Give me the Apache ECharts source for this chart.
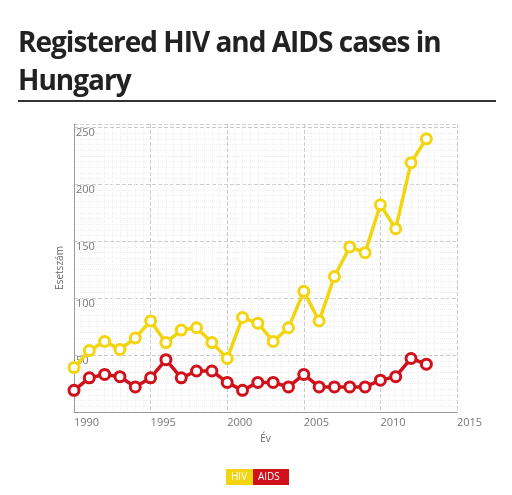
<!DOCTYPE html>
<html>
<head>
<meta charset="utf-8">
<script src="https://cdn.jsdelivr.net/npm/echarts@6/dist/echarts.min.js"></script>
<style>
body { margin: 0; background: #fff; }
#title { position: absolute; left: 18px; top: 22px; width: 478px; font-family: "Open Sans", "Noto Sans", sans-serif; font-weight: bold; font-size: 28px; line-height: 38px; color: #222; letter-spacing: -1px; border-bottom: 2px solid #333; padding-bottom: 2px; }
#chart { position: absolute; left: 0; top: 0; width: 512px; height: 495px; }
</style>
</head>
<body>
<div id="chart"></div>
<div id="title">Registered HIV and AIDS cases in Hungary</div>
<script>
//年份
var years = [1990, 1991, 1992, 1993, 1994, 1995, 1996, 1997, 1998, 1999, 2000, 2001,
    2002, 2003, 2004, 2005, 2006, 2007, 2008, 2009, 2010, 2011, 2012, 2013];
//HIV
var hivValues = [39, 54, 62, 55, 65, 80, 61, 72, 74, 61, 47, 83,
    78, 62, 74, 106, 80, 119, 145, 140, 182, 161, 219, 240];
//AIDS
var aidsValues = [19, 30, 33, 31, 22, 30, 46, 30, 36, 36, 26, 19,
    26, 26, 22, 33, 22, 22, 22, 22, 28, 31, 47, 42];

var yellow = '#f2d50f';
var red = '#d0101a';

function pairs(vals) {
    return vals.map(function (v, i) { return [years[i], v]; });
}

var myChart = echarts.init(document.getElementById('chart'));

var lineStyleSeries = function (name, color, vals) {
    return {
        name: name,
        type: 'line',
        data: pairs(vals),
        symbol: 'circle',
        symbolSize: 10,
        lineStyle: { color: color, width: 3.5 },
        itemStyle: { color: '#fff', borderColor: color, borderWidth: 3 },
        animation: false
    };
};

var option = {
    grid: { left: 74, right: 55, top: 124, bottom: 83 },
    xAxis: {
        type: 'value',
        min: 1990,
        max: 2015,
        interval: 5,
        name: 'Év',
        nameLocation: 'middle',
        nameGap: 22,
        nameTextStyle: { color: '#666', fontSize: 10, fontFamily: 'Open Sans' },
        axisLine: { show: true, lineStyle: { color: '#999' } },
        axisTick: { show: false },
        axisLabel: {
            color: '#777', fontSize: 11, fontFamily: 'Open Sans', align: 'left', margin: 5,
            formatter: function (v) { return String(v); }
        },
        splitLine: { show: true, lineStyle: { color: '#ccc', type: 'dashed', width: 1 } },
        minorTick: { show: true, splitNumber: 10, length: 0 },
        minorSplitLine: { show: true, lineStyle: { color: '#eee', type: 'dotted' } }
    },
    yAxis: {
        type: 'value',
        min: 0,
        max: 253,
        interval: 50,
        name: 'Esetszám',
        nameLocation: 'middle',
        nameGap: 6,
        nameTextStyle: { color: '#666', fontSize: 10, fontFamily: 'Open Sans' },
        axisLine: { show: true, lineStyle: { color: '#999' } },
        axisTick: { show: false },
        axisLabel: {
            inside: true, color: '#777', fontSize: 11, fontFamily: 'Open Sans',
            verticalAlign: 'top', margin: 2, showMaxLabel: false,
            formatter: function (v) { return v === 0 ? '' : v; }
        },
        splitLine: { show: true, lineStyle: { color: '#ccc', type: 'dashed', width: 1 } },
        minorTick: { show: true, splitNumber: 10, length: 0 },
        minorSplitLine: { show: true, lineStyle: { color: '#eee', type: 'dotted' } }
    },
    series: [
        lineStyleSeries('HIV', yellow, hivValues),
        lineStyleSeries('AIDS', red, aidsValues)
    ],
    graphic: [
        { type: 'rect', left: 226, top: 469, shape: { width: 27, height: 16 }, style: { fill: yellow } },
        { type: 'text', left: 231, top: 472, style: { text: 'HIV', fill: '#fff', fontSize: 10, fontFamily: 'Open Sans' } },
        { type: 'rect', left: 253, top: 469, shape: { width: 36, height: 16 }, style: { fill: red } },
        { type: 'text', left: 258, top: 472, style: { text: 'AIDS', fill: '#fff', fontSize: 10, fontFamily: 'Open Sans' } }
    ]
};

myChart.setOption(option);
</script>
</body>
</html>
